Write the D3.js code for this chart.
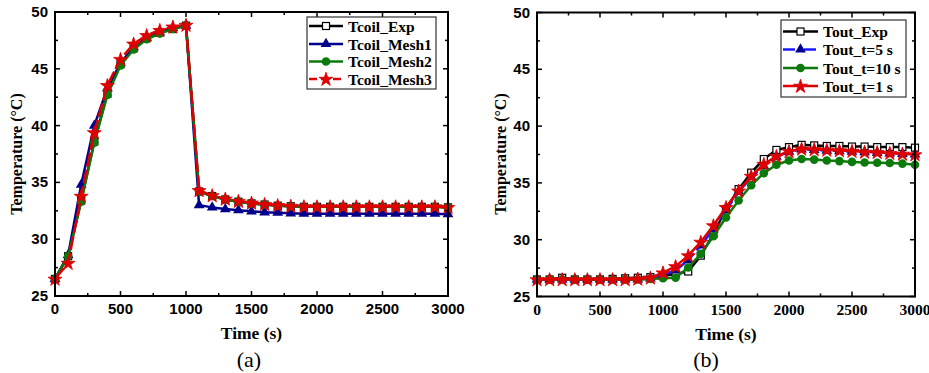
<!DOCTYPE html>
<html><head><meta charset="utf-8">
<script src="https://cdn.jsdelivr.net/npm/d3@7/dist/d3.min.js"></script>
<style>body{margin:0;background:#fff}svg{display:block}</style>
</head><body>
<svg id="c" width="929" height="373"></svg>
<script>
const time = d3.range(0, 3001, 100);
const yTicks = [25, 30, 35, 40, 45, 50];
const xTicks = [0, 500, 1000, 1500, 2000, 2500, 3000];

const tcoilExp   = [26.5,28.5,33.4,38.6,42.8,45.4,46.8,47.7,48.2,48.5,48.8,34.2,33.8,33.5,33.3,33.15,33.05,32.95,32.9,32.85,32.85,32.85,32.85,32.85,32.85,32.85,32.85,32.85,32.85,32.85,32.8];
const tcoilMesh1 = [26.5,28.6,34.8,40.0,43.3,45.5,46.9,47.75,48.2,48.6,48.8,33.0,32.8,32.65,32.55,32.45,32.37,32.33,32.28,32.25,32.25,32.25,32.25,32.25,32.25,32.25,32.25,32.25,32.25,32.25,32.2];
const tcoilMesh2 = [26.5,28.5,33.3,38.5,42.7,45.3,46.7,47.6,48.1,48.5,48.8,34.2,33.8,33.5,33.3,33.15,33.05,32.95,32.9,32.85,32.85,32.85,32.85,32.85,32.85,32.85,32.85,32.85,32.85,32.85,32.8];
const tcoilMesh3 = [26.5,27.9,33.8,39.4,43.55,45.85,47.2,47.95,48.4,48.7,48.85,34.3,33.85,33.55,33.35,33.2,33.08,32.98,32.92,32.88,32.87,32.87,32.87,32.87,32.87,32.87,32.87,32.87,32.87,32.87,32.82];

const toutExp = [26.5,26.5,26.65,26.5,26.5,26.5,26.55,26.6,26.65,26.7,26.8,27.0,27.2,28.6,30.5,32.7,34.45,35.9,37.1,37.9,38.15,38.35,38.3,38.25,38.25,38.2,38.2,38.15,38.15,38.15,38.1];
const toutT5  = [26.5,26.5,26.5,26.5,26.5,26.5,26.5,26.5,26.5,26.6,26.9,27.3,28.2,29.5,30.9,32.6,34.2,35.5,36.5,37.3,37.75,37.95,37.9,37.85,37.8,37.75,37.7,37.65,37.6,37.55,37.5];
const toutT10 = [26.5,26.5,26.5,26.5,26.5,26.5,26.5,26.5,26.5,26.55,26.6,26.65,27.55,28.75,30.3,31.95,33.45,34.8,35.85,36.6,36.97,37.1,37.05,36.97,36.92,36.85,36.8,36.78,36.75,36.7,36.6];
const toutT1  = [26.5,26.5,26.5,26.5,26.5,26.5,26.5,26.5,26.55,26.65,27.1,27.65,28.6,29.8,31.25,32.85,34.3,35.6,36.65,37.35,37.78,38.0,37.95,37.9,37.85,37.8,37.72,37.7,37.62,37.55,37.5];

const svg = d3.select("#c");
const serif = "'Liberation Serif','Times New Roman',serif";
const sans = "'Liberation Sans',Arial,sans-serif";

function marker(g, type, x, y, s) {
  if (type === "square") {
    g.append("rect").attr("x", x - 3.5).attr("y", y - 3.5).attr("width", 7).attr("height", 7)
      .attr("fill", "#fff").attr("stroke", s.mcolor).attr("stroke-width", 1.2);
  } else if (type === "triangle") {
    g.append("path").attr("d", d3.symbol(d3.symbolTriangle, 50)()).attr("transform", `translate(${x},${y})`)
      .attr("fill", s.mcolor);
  } else if (type === "circle") {
    g.append("circle").attr("cx", x).attr("cy", y).attr("r", 4.3).attr("fill", s.mcolor);
  } else if (type === "star") {
    g.append("path").attr("d", d3.symbol(d3.symbolStar, 60)()).attr("transform", `translate(${x},${y + 0.5})`)
      .attr("fill", s.mcolor).attr("stroke", s.mcolor).attr("stroke-width", 0.8);
  }
}

function panel(cfg) {
  const x = d3.scaleLinear().domain([0, 3000]).range([cfg.x0, cfg.x1]);
  const y = d3.scaleLinear().domain([25, 50]).range([cfg.y1, cfg.y0]);
  const g = svg.append("g");

  cfg.series.forEach(s => {
    const line = d3.line().x((d, i) => x(time[i])).y(d => y(d));
    g.append("path").attr("d", line(s.values)).attr("fill", "none")
      .attr("stroke", s.color).attr("stroke-width", 2.5)
      .attr("stroke-dasharray", s.dash || null).attr("stroke-linejoin", "round");
    s.values.forEach((v, i) => marker(g, s.type, x(time[i]), y(v), s));
  });

  g.append("rect").attr("x", cfg.x0).attr("y", cfg.y0).attr("width", cfg.x1 - cfg.x0)
    .attr("height", cfg.y1 - cfg.y0).attr("fill", "none").attr("stroke", "#000").attr("stroke-width", 2);

  const tk = g.append("g").attr("stroke", "#000").attr("stroke-width", 1.5);
  d3.range(0, 3001, 250).forEach(t => {
    const L = t % 500 === 0 ? 5 : 3;
    tk.append("line").attr("x1", x(t)).attr("x2", x(t)).attr("y1", cfg.y1).attr("y2", cfg.y1 - L);
    tk.append("line").attr("x1", x(t)).attr("x2", x(t)).attr("y1", cfg.y0).attr("y2", cfg.y0 + L);
  });
  d3.range(25, 50.01, 2.5).forEach(t => {
    const L = t % 5 === 0 ? 5 : 3;
    tk.append("line").attr("y1", y(t)).attr("y2", y(t)).attr("x1", cfg.x0).attr("x2", cfg.x0 + L);
    tk.append("line").attr("y1", y(t)).attr("y2", y(t)).attr("x1", cfg.x1).attr("x2", cfg.x1 - L);
  });

  yTicks.forEach(t => {
    g.append("text").attr("x", cfg.x0 - 7).attr("y", y(t) + 5).attr("text-anchor", "end")
      .attr("font-family", sans).attr("font-weight", "bold").attr("font-size", 15).text(t);
  });
  xTicks.forEach(t => {
    g.append("text").attr("x", x(t)).attr("y", cfg.y1 + 18).attr("text-anchor", "middle")
      .attr("font-family", cfg.xFont).attr("font-weight", "bold").attr("font-size", cfg.xFont === sans ? 15 : 15.5).text(t);
  });

  g.append("text").attr("x", (cfg.x0 + cfg.x1) / 2 + cfg.xtOff).attr("y", cfg.y1 + 43).attr("text-anchor", "middle")
    .attr("font-family", serif).attr("font-weight", "bold").attr("font-size", 17.5).text("Time (s)");
  g.append("text").attr("transform", `translate(${cfg.ytX},154) rotate(-90)`).attr("text-anchor", "middle")
    .attr("font-family", serif).attr("font-weight", "bold").attr("font-size", 16).text("Temperature (°C)");
  g.append("text").attr("x", cfg.capX).attr("y", 367).attr("text-anchor", "middle")
    .attr("font-family", serif).attr("font-size", 22).text(cfg.caption);

  const lg = cfg.legend;
  g.append("rect").attr("x", lg.x).attr("y", lg.y).attr("width", lg.w).attr("height", lg.h)
    .attr("fill", "#fff").attr("stroke", "#333").attr("stroke-width", 1.2);
  cfg.series.forEach((s, i) => {
    const cy = lg.rows[i];
    g.append("line").attr("x1", lg.x + 2).attr("x2", lg.x + 2 + lg.lw).attr("y1", cy).attr("y2", cy)
      .attr("stroke", s.color).attr("stroke-width", 2.5).attr("stroke-dasharray", s.ldash || null);
    marker(g, s.type, lg.x + 2 + lg.lw / 2, cy, s);
    g.append("text").attr("x", lg.x + lg.tx).attr("y", cy + 5.5).attr("font-family", serif)
      .attr("font-weight", "bold").attr("font-size", 15.5).text(s.name);
  });
}

panel({
  x0: 55, x1: 448, y0: 12, y1: 296, xFont: sans, xtOff: 0, ytX: 22, capX: 249, caption: "(a)",
  series: [
    { name: "Tcoil_Exp", values: tcoilExp, color: "#000", mcolor: "#000", type: "square" },
    { name: "Tcoil_Mesh1", values: tcoilMesh1, color: "#00008b", mcolor: "#00008b", type: "triangle" },
    { name: "Tcoil_Mesh2", values: tcoilMesh2, color: "#0b7a0b", mcolor: "#0b7a0b", type: "circle" },
    { name: "Tcoil_Mesh3", values: tcoilMesh3, color: "#dd0000", mcolor: "#dd0000", type: "star", dash: "14,3", ldash: "8,4" }
  ],
  legend: { x: 307, y: 17, w: 129, h: 72, rows: [26, 44, 61.5, 79], lw: 34, tx: 41 }
});

panel({
  x0: 537, x1: 915, y0: 12.5, y1: 296.5, xFont: serif, xtOff: 0, ytX: 506, capX: 706, caption: "(b)",
  series: [
    { name: "Tout_Exp", values: toutExp, color: "#000", mcolor: "#000", type: "square" },
    { name: "Tout_t=5 s", values: toutT5, color: "#1a1aff", mcolor: "#00008b", type: "triangle", dash: "9,4", ldash: "12,9" },
    { name: "Tout_t=10 s", values: toutT10, color: "#0b7a0b", mcolor: "#0b7a0b", type: "circle" },
    { name: "Tout_t=1 s", values: toutT1, color: "#dd0000", mcolor: "#dd0000", type: "star" }
  ],
  legend: { x: 781, y: 20, w: 125, h: 77, rows: [31.5, 49.5, 68, 86], lw: 35, tx: 42 }
});
</script>
</body></html>
